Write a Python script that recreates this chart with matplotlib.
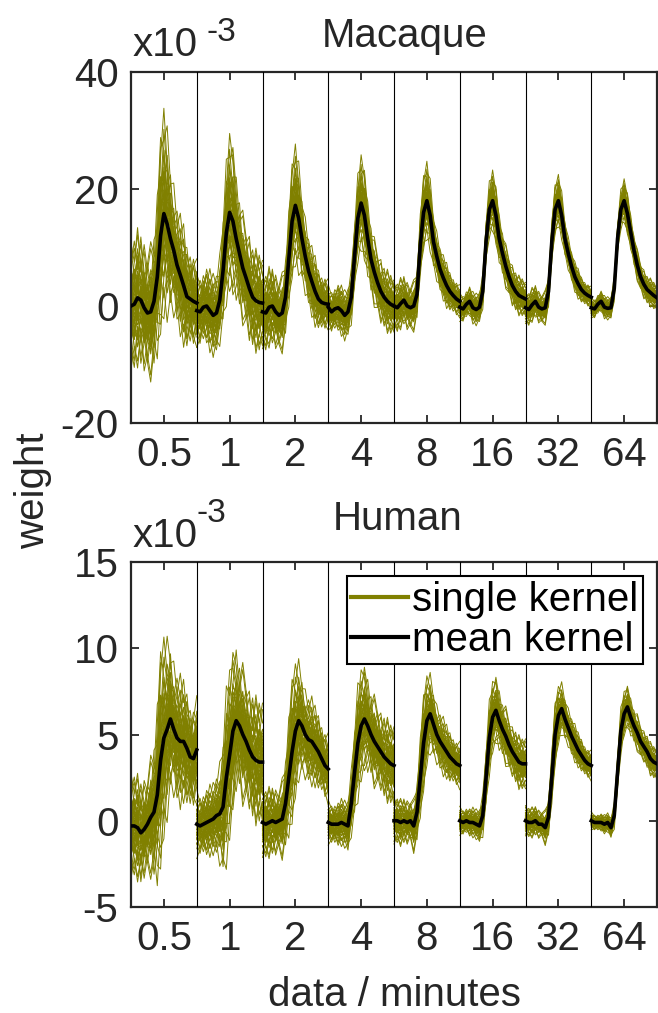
import numpy as np
import matplotlib.pyplot as plt
from matplotlib.lines import Line2D

plt.rcParams['font.family'] = ['Liberation Sans', 'DejaVu Sans']
plt.rcParams['axes.unicode_minus'] = False

OLIVE = '#808000'
INK = '#262626'

durations = ['0.5', '1', '2', '4', '8', '16', '32', '64']

# mean kernels, one list per data duration, values in units of 1e-3
macaque_mean = [
    [0.0, 0.3, 1.4, 1.0, -0.3, -1.2, -1.0, 0.8, 5.0, 12.0, 15.8, 14.0, 11.5, 9.5, 7.0, 5.3, 3.5, 1.6, 1.2, 0.8, 0.5],
    [-0.8, -1.0, -0.2, 0.0, -0.8, -1.6, -1.2, 1.0, 6.0, 12.5, 16.0, 14.5, 11.5, 9.0, 6.5, 4.8, 3.0, 1.5, 0.9, 0.6, 0.5],
    [-1.0, -1.2, -0.2, 0.0, -1.0, -1.6, -1.2, 1.5, 8.0, 14.5, 17.2, 15.0, 11.5, 8.5, 6.0, 4.2, 2.5, 1.2, 0.6, 0.4, 0.3],
    [-0.2, -1.0, -0.5, -0.3, -0.8, -1.6, -1.0, 1.5, 8.5, 15.0, 17.6, 15.5, 11.5, 8.0, 5.8, 4.0, 2.5, 1.5, 0.8, 0.3, 0.0],
    [0.0, -0.3, 0.4, 1.0, 0.0, -0.3, 0.0, 2.0, 10.5, 16.0, 18.0, 15.5, 11.0, 8.5, 6.3, 4.8, 3.5, 2.5, 1.8, 1.2, 0.8],
    [-0.2, -0.5, 0.3, 0.8, -0.3, -0.6, -0.2, 2.5, 11.0, 16.5, 18.0, 15.5, 11.5, 9.0, 6.8, 5.0, 3.5, 2.5, 1.8, 1.5, 1.2],
    [-0.3, -0.6, 0.2, 0.8, -0.2, -0.5, -0.3, 2.5, 11.0, 16.5, 18.0, 15.5, 11.5, 9.0, 6.8, 5.0, 3.8, 2.8, 2.2, 1.8, 1.5],
    [-0.3, -0.5, 0.3, 0.8, -0.2, -0.4, -0.3, 3.0, 11.5, 16.5, 18.0, 15.8, 12.6, 9.5, 7.0, 5.0, 3.7, 2.8, 2.3, 1.8, 1.4],
]

human_mean = [
    [-0.3, -0.3, -0.4, -0.7, -0.5, -0.2, 0.2, 0.5, 1.5, 3.5, 4.8, 5.3, 5.9, 5.3, 4.8, 4.6, 4.6, 4.2, 3.7, 3.6, 4.1],
    [-0.2, -0.3, -0.2, -0.1, 0.0, 0.1, 0.3, 0.4, 0.8, 2.5, 3.8, 5.2, 5.8, 5.5, 5.0, 4.6, 4.1, 3.7, 3.5, 3.4, 3.4],
    [-0.1, -0.2, -0.1, 0.0, -0.1, 0.0, 0.1, 1.0, 2.5, 4.0, 5.2, 5.8, 5.5, 5.0, 4.7, 4.6, 4.3, 4.0, 3.6, 3.2, 3.0],
    [-0.1, -0.2, -0.2, -0.2, -0.1, -0.2, -0.3, 1.0, 2.8, 4.5, 5.5, 5.9, 5.5, 5.0, 4.6, 4.3, 4.0, 3.7, 3.5, 3.3, 3.2],
    [0.0, 0.0, -0.1, 0.0, -0.1, 0.0, -0.3, 0.5, 2.5, 4.5, 5.8, 6.2, 5.6, 5.0, 4.6, 4.3, 4.0, 3.7, 3.5, 3.3, 3.2],
    [0.0, -0.1, 0.0, -0.1, -0.1, -0.2, -0.3, 0.3, 2.5, 4.8, 6.0, 6.4, 5.8, 5.3, 4.9, 4.4, 4.0, 3.7, 3.4, 3.3, 3.3],
    [0.0, -0.1, -0.1, 0.0, -0.2, -0.2, -0.4, 0.2, 2.5, 5.0, 6.1, 6.5, 5.9, 5.4, 4.9, 4.5, 4.1, 3.8, 3.5, 3.3, 3.2],
    [0.0, -0.1, -0.1, -0.1, -0.2, -0.1, -0.4, 0.3, 2.8, 5.2, 6.2, 6.6, 6.0, 5.5, 5.1, 4.6, 4.3, 4.0, 3.6, 3.4, 3.3],
]

# spread of the single kernels around the mean (1e-3), per duration
macaque_spread = [12.0, 9.0, 7.0, 5.5, 4.5, 3.5, 3.0, 2.5]
human_spread = [4.5, 3.8, 3.0, 2.5, 2.0, 1.6, 1.3, 1.0]

# how the spread varies along one kernel
macaque_env = [1.0, 1.0, 1.0, 1.0, 1.0, 1.0, 1.0, 1.1, 1.3, 1.4, 1.5, 1.4, 1.3, 1.2, 1.1, 1.1, 1.1, 1.0, 1.0, 1.0, 0.9]
human_env = [0.75, 0.7, 0.7, 0.7, 0.7, 0.7, 0.8, 1.0, 1.3, 1.4, 1.3, 1.2, 1.2, 1.1, 1.1, 1.1, 1.0, 1.0, 1.0, 1.0, 1.0]

# individual kernel deviations (normalised)
kernel_dev = [
    [0.6, 0.8, 0.4, 0.9, 0.5, 0.2, 0.6, 0.3, -0.1, 0.4, 0.8, 0.5, 0.2, 0.4, 0.1, -0.2, 0.3, 0.0, -0.3, 0.1, -0.2],
    [-0.5, -0.2, -0.7, -0.4, -0.9, -0.6, -0.3, -0.8, -0.5, -0.2, 0.1, -0.3, -0.6, -0.4, -0.7, -0.5, -0.2, -0.6, -0.4, -0.1, -0.3],
    [0.1, -0.4, 0.3, -0.2, 0.5, 0.1, -0.3, 0.2, 0.7, 1.0, 0.6, 0.3, 0.5, 0.1, 0.4, 0.6, 0.2, -0.1, 0.3, 0.5, 0.2],
    [-0.9, -0.6, -1.0, -0.5, -0.2, -0.7, -0.4, 0.0, -0.3, -0.6, -0.2, 0.1, -0.2, 0.2, 0.0, -0.3, 0.1, 0.3, 0.0, -0.2, 0.1],
    [0.3, 0.5, 0.1, -0.2, 0.2, 0.6, 0.9, 0.5, 0.2, -0.3, -0.6, -0.2, 0.1, -0.1, 0.3, 0.1, 0.4, 0.6, 0.3, 0.5, 0.7],
    [-0.2, 0.1, -0.3, 0.2, -0.1, -0.4, 0.0, -0.5, -0.9, -0.6, -0.3, -0.7, -0.4, -0.1, -0.3, 0.0, -0.2, 0.1, -0.1, 0.2, 0.0],
    [0.8, 0.4, 0.6, 0.2, 0.0, 0.3, -0.2, 0.1, 0.5, 0.9, 0.7, 1.0, 0.6, 0.8, 0.5, 0.3, 0.6, 0.2, 0.4, 0.1, 0.3],
    [-0.1, -0.5, -0.2, -0.6, -0.3, 0.1, 0.4, 0.0, 0.3, 0.1, -0.2, 0.0, -0.4, -0.2, -0.5, -0.8, -0.5, -0.7, -0.3, -0.6, -0.4],
    [0.4, 0.0, -0.3, 0.1, 0.4, 0.0, 0.3, 0.6, 0.2, 0.5, 0.3, -0.1, -0.4, -0.1, 0.2, 0.5, 0.8, 0.4, 0.6, 0.3, 0.0],
    [-0.6, -0.9, -0.5, -0.8, -0.4, -0.7, -1.0, -0.6, -0.2, 0.2, 0.4, 0.1, 0.3, 0.0, -0.2, 0.1, -0.1, -0.4, -0.2, -0.5, -0.3],
    [0.2, 0.6, 0.9, 0.5, 0.8, 0.4, 0.1, -0.2, 0.1, -0.3, 0.0, 0.4, 0.7, 0.3, 0.6, 0.2, -0.1, 0.2, 0.5, 0.2, 0.4],
    [-0.3, 0.0, 0.2, -0.1, -0.4, -0.2, -0.5, -0.1, -0.4, -0.8, -1.0, -0.6, -0.3, -0.5, -0.2, -0.4, -0.6, -0.3, 0.0, -0.2, -0.5],
]
# each deviation is drawn at these signed strengths
dev_levels = [1.0, -1.0, 0.55, -0.55]

FS = 29
W, H = 658, 1013


def draw_panel(ax, means, spread, env, ylim, yticks):
    env = np.asarray(env)
    for s, m in enumerate(means):
        m = np.asarray(m)
        xs = s + np.linspace(0, 1, len(m))
        for pat in kernel_dev:
            p = np.asarray(pat)
            if s % 2:
                p = p[::-1]
            for lev in dev_levels:
                ax.plot(xs, m + lev * spread[s] * env * p, color=OLIVE, lw=0.7, zorder=2)
        ax.plot(xs, m, color='black', lw=2.6, zorder=5)
    for b in range(1, len(means)):
        ax.axvline(b, color='black', lw=0.8, zorder=4)
    ax.set_xlim(0, len(means))
    ax.set_ylim(*ylim)
    ax.set_xticks(np.arange(len(means)) + 0.5)
    ax.set_xticklabels(durations)
    ax.set_yticks(yticks)
    ax.tick_params(direction='in', top=True, right=True, length=6, width=1.3,
                   labelsize=FS, pad=9, colors=INK)
    for sp in ax.spines.values():
        sp.set_linewidth(1.6)
        sp.set_color(INK)


fig = plt.figure(figsize=(W / 100, H / 100), dpi=100)

ax1 = fig.add_axes([131 / W, 1 - 423 / H, 526 / W, 351 / H])
draw_panel(ax1, macaque_mean, macaque_spread, macaque_env, (-20, 40), [-20, 0, 20, 40])

ax2 = fig.add_axes([131 / W, 1 - 907 / H, 526 / W, 345 / H])
draw_panel(ax2, human_mean, human_spread, human_env, (-5, 15), [-5, 0, 5, 10, 15])

# exponent labels and titles
fig.text(133 / W, 1 - 56 / H, 'x10', fontsize=FS, color=INK, va='baseline')
fig.text(207 / W, 1 - 41 / H, '-3', fontsize=24, color=INK, va='baseline')
fig.text(405 / W, 1 - 47 / H, 'Macaque', fontsize=FS, color=INK, va='baseline', ha='center')

fig.text(133 / W, 1 - 547 / H, 'x10', fontsize=FS, color=INK, va='baseline')
fig.text(196 / W, 1 - 522 / H, '-3', fontsize=24, color=INK, va='baseline')
fig.text(398 / W, 1 - 530 / H, 'Human', fontsize=FS, color=INK, va='baseline', ha='center')

fig.text(33 / W, 1 - 491 / H, 'weight', fontsize=FS, color=INK, rotation=90,
         va='center', ha='center')
fig.text(394 / W, 1 - 995 / H, 'data / minutes', fontsize=FS, color=INK,
         va='center', ha='center')

handles = [Line2D([], [], color=OLIVE, lw=3), Line2D([], [], color='black', lw=3)]
leg = ax2.legend(handles, ['single kernel', 'mean kernel'], loc='upper right',
                 fontsize=FS, frameon=True, fancybox=False, handlelength=1.4,
                 handletextpad=0.1, borderpad=0.12, labelspacing=0.05,
                 borderaxespad=0.35)
leg.get_frame().set_edgecolor('black')
leg.get_frame().set_linewidth(1.5)
leg.get_frame().set_alpha(1)

fig.savefig('out.png', dpi=100)
